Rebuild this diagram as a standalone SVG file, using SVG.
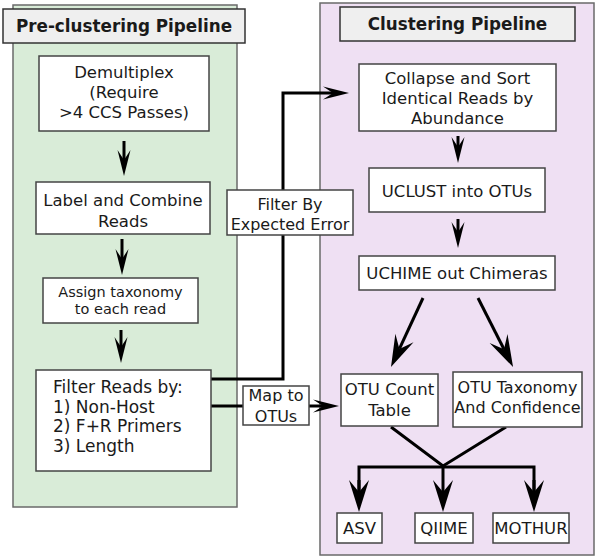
<svg xmlns="http://www.w3.org/2000/svg" width="596" height="557" viewBox="0 0 596 557">
<style>
text{font-family:"DejaVu Sans","Liberation Sans",sans-serif;font-size:16.5px;fill:#1a1a1a;text-anchor:middle}
.hd{font-weight:bold;font-size:16.8px}
.box{fill:#fff;stroke:#444;stroke-width:1.5}
.head{fill:#efefef;stroke:#333;stroke-width:1.5}
.con{fill:none;stroke:#000;stroke-width:3}
</style>
<defs>
<marker id="s" markerUnits="userSpaceOnUse" markerWidth="40" markerHeight="40" refX="0" refY="0" viewBox="-20 -20 40 40" orient="auto" overflow="visible"><path d="M16,0 L-10,-6.5 L0,0 L-10,6.5 Z" fill="#000"/></marker>
<marker id="b" markerUnits="userSpaceOnUse" markerWidth="60" markerHeight="60" refX="0" refY="0" viewBox="-30 -30 60 60" orient="auto" overflow="visible"><path d="M20,0 L-12,-10 L0,0 L-12,10 Z" fill="#000"/></marker>
</defs>
<g id="panel-pre">
<rect x="13" y="5" width="224" height="502" fill="#d9ecd8" stroke="#6a6a6a" stroke-width="1.5"/>
<rect class="head" x="3" y="9" width="242" height="34"/>
<text class="hd" x="124" y="32">Pre-clustering Pipeline</text>
</g>
<g id="panel-clust">
<rect x="320" y="3" width="274" height="552" fill="#efe0f3" stroke="#6a6a6a" stroke-width="1.5"/>
<rect class="head" x="340" y="7" width="235" height="34"/>
<text class="hd" x="457.5" y="30">Clustering Pipeline</text>
</g>
<g id="connectors">
<line class="con" x1="124" y1="141" x2="124" y2="160" marker-end="url(#s)"/>
<line class="con" x1="122" y1="239" x2="122" y2="259" marker-end="url(#s)"/>
<line class="con" x1="121" y1="330" x2="121" y2="347" marker-end="url(#s)"/>
<polyline class="con" points="211,379 283,379 283,93 333,93" marker-end="url(#s)"/>
<line class="con" x1="211" y1="406" x2="243" y2="406"/>
<line class="con" x1="309" y1="406" x2="323" y2="406" marker-end="url(#s)"/>
<line class="con" x1="458" y1="136" x2="458" y2="147" marker-end="url(#s)"/>
<line class="con" x1="458" y1="219" x2="458" y2="232" marker-end="url(#s)"/>
<line class="con" x1="423" y1="298" x2="399.4" y2="348.9" marker-end="url(#b)"/>
<line class="con" x1="478" y1="298" x2="504" y2="349.2" marker-end="url(#b)"/>
<polyline class="con" stroke-width="2.5" points="391,427 443,466 506,427"/>
<line class="con" stroke-width="2.5" x1="443" y1="466" x2="443" y2="492" marker-end="url(#b)"/>
<polyline class="con" stroke-width="2.5" points="359,492 359,467 534,467 534,492"/>
<line class="con" stroke-width="0" x1="359" y1="480" x2="359" y2="492" marker-end="url(#b)"/>
<line class="con" stroke-width="0" x1="534" y1="480" x2="534" y2="492" marker-end="url(#b)"/>
</g>
<g id="demux"><rect class="box" x="39" y="56" width="170" height="75"/>
<text x="124" y="78">Demultiplex</text><text x="124" y="98">(Require</text><text x="124" y="118">&gt;4 CCS Passes)</text></g>
<g id="label"><rect class="box" x="36" y="182" width="174" height="52"/>
<text x="123" y="206">Label and Combine</text><text x="123" y="227">Reads</text></g>
<g id="assign"><rect class="box" x="43" y="278" width="155" height="45"/>
<text x="120.5" y="296.5" style="font-size:14.5px">Assign taxonomy</text><text x="120.5" y="314" style="font-size:14.5px">to each read</text></g>
<g id="filter"><rect class="box" x="36" y="370" width="175" height="101"/>
<text x="53" y="393" style="text-anchor:start;font-size:17px">Filter Reads by:</text>
<text x="53" y="413" style="text-anchor:start;font-size:17px">1) Non-Host</text>
<text x="53" y="432" style="text-anchor:start;font-size:17px">2) F+R Primers</text>
<text x="53" y="452" style="text-anchor:start;font-size:17px">3) Length</text></g>
<g id="filterby"><rect class="box" x="227" y="190" width="126" height="45"/>
<text x="290" y="210" style="font-size:16px">Filter By</text><text x="290" y="230" style="font-size:16px">Expected Error</text></g>
<g id="mapto"><rect class="box" x="243" y="386" width="66" height="39"/>
<text x="276" y="401" style="font-size:16px">Map to</text><text x="276" y="422" style="font-size:16px">OTUs</text></g>
<g id="collapse"><rect class="box" x="359" y="64" width="197" height="67"/>
<text x="457.5" y="84">Collapse and Sort</text><text x="457.5" y="104">Identical Reads by</text><text x="457.5" y="124">Abundance</text></g>
<g id="uclust"><rect class="box" x="369" y="168" width="176" height="44"/>
<text x="457" y="197">UCLUST into OTUs</text></g>
<g id="uchime"><rect class="box" x="359" y="256" width="196" height="34"/>
<text x="457" y="279">UCHIME out Chimeras</text></g>
<g id="otucount"><rect class="box" x="341" y="374" width="97" height="52"/>
<text x="389.5" y="395">OTU Count</text><text x="389.5" y="416">Table</text></g>
<g id="otutax"><rect class="box" x="453" y="372" width="129" height="55"/>
<text x="517.5" y="393" style="font-size:16px">OTU Taxonomy</text><text x="517.5" y="413" style="font-size:16px">And Confidence</text></g>
<g id="asv"><rect class="box" x="337" y="513" width="45" height="30"/><text x="359.5" y="534">ASV</text></g>
<g id="qiime"><rect class="box" x="415" y="513" width="58" height="30"/><text x="444" y="534">QIIME</text></g>
<g id="mothur"><rect class="box" x="493" y="513" width="76" height="30"/><text x="531" y="534">MOTHUR</text></g>
</svg>
